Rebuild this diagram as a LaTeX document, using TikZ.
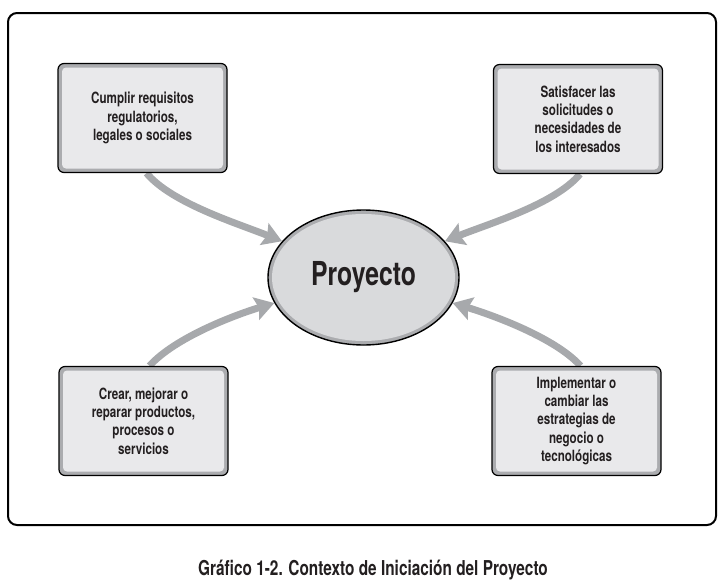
\documentclass[tikz,border=0pt]{standalone}
\usepackage{fontspec}
\setmainfont{TeX Gyre Heros}[FakeStretch=0.75]
\usetikzlibrary{arrows.meta, positioning, shapes.geometric, backgrounds}
\definecolor{bandc}{HTML}{ABACAF}
\definecolor{boxc}{HTML}{E9E9EB}
\definecolor{ellc}{HTML}{D9DADC}
\definecolor{arc}{HTML}{A7A9AC}
\definecolor{txtc}{HTML}{231F20}

\begin{document}
\begin{tikzpicture}[x=1pt, y=-1pt, text=txtc,
      font=\bfseries\fontsize{15.5}{18.3}\selectfont,
      goal/.style={rounded corners=6pt, draw=black, line width=1.2pt, fill=bandc,
                   minimum width=169pt, minimum height=109pt, align=center, inner sep=0pt,
                   path picture={\fill[boxc, rounded corners=4pt]
                     ([shift={(4pt,4pt)}]path picture bounding box.south west) rectangle
                     ([shift={(-4pt,-4pt)}]path picture bounding box.north east);}},
      proj/.style={ellipse, draw=black, line width=1.4pt, fill=bandc,
                   minimum width=191pt, minimum height=135pt, inner sep=0pt,
                   font=\bfseries\fontsize{33}{36}\selectfont,
                   path picture={\fill[ellc] (path picture bounding box.center)
                     ellipse [x radius=91.5pt, y radius=63.5pt];}},
      ar/.style={-{Stealth[length=19pt, width=23pt, inset=3pt]}, draw=arc, line width=7pt}]
    \useasboundingbox (0,0) rectangle (724,587);
    \draw[line width=2pt, rounded corners=9pt] (8,13) rectangle (716,525);
    \node[proj] (P) at (363.5,277.5) {Proyecto};
    \node[goal] (G1) at (142.5,118) {Cumplir requisitos\\regulatorios,\\legales o sociales};
    \node[goal] (G2) at (578,119) {Satisfacer las\\solicitudes o\\necesidades de\\los interesados};
    \node[goal] (G3) at (143.5,421) {Crear, mejorar o\\reparar productos,\\procesos o\\servicios};
    \node[goal] (G4) at (576.5,421) {Implementar o\\cambiar las\\estrategias de\\negocio o\\tecnológicas};
    \begin{scope}[on background layer]
      \draw[ar] ([xshift=4pt]G1.south) .. controls +(25,30) and +(-45,-18) .. (P.156);
      \draw[ar] ([xshift=2pt]G2.south) .. controls +(-25,30) and +(45,-18) .. (P.24);
      \draw[ar] ([xshift=6pt]G3.north) .. controls +(25,-28) and +(-40,12) .. (P.196);
      \draw[ar] ([xshift=4pt]G4.north) .. controls +(-25,-28) and +(40,12) .. (P.-16);
    \end{scope}
    \node[font=\bfseries\fontsize{20.5}{24}\selectfont] (cap) at (373,570)
      {Gráfico 1-2. Contexto de Iniciación del Proyecto};
  \end{tikzpicture}
\end{document}
